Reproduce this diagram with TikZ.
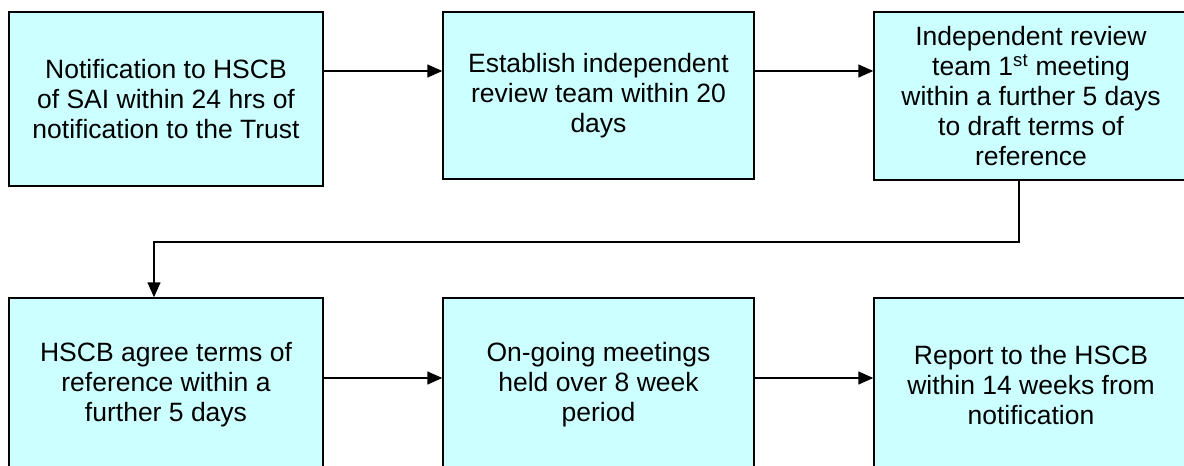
\documentclass[tikz,border=0pt]{standalone}
\usepackage{fontspec}
\setmainfont{Liberation Sans}
\usetikzlibrary{arrows.meta, positioning}
\definecolor{boxcyan}{HTML}{CCFFFF}

\begin{document}
\begin{tikzpicture}[x=1pt, y=1pt,
  box/.style={draw=black, line width=1.5pt, fill=boxcyan, minimum width=314pt,
    minimum height=174pt, inner sep=0pt, align=center,
    font=\fontsize{26.5}{30}\selectfont},
  flow/.style={line width=1.5pt, -{Triangle[length=15pt,width=13pt]}}]
\useasboundingbox (0,0) rectangle (1184,-466);
% Top row
\node[box] (notify) at (166,-99) {Notification to HSCB\\of SAI within 24 hrs of\\notification to the Trust};
\node[box, minimum width=311pt, minimum height=167pt] (team) at (598.5,-95.5) {Establish independent\\review team within 20\\days};
\node[box, minimum height=168pt] (meet) at (1031,-96) {Independent review\\team 1\textsuperscript{st} meeting\\within a further 5 days\\to draft terms of\\reference};
% Bottom row
\node[box] (agree) at (166,-385) {HSCB agree terms of\\reference within a\\further 5 days};
\node[box, minimum width=311pt] (ongoing) at (598.5,-385) {On-going meetings\\held over 8 week\\period};
\node[box] (report) at (1031,-385) {Report to the HSCB\\within 14 weeks from\\notification};
% Connectors
\coordinate (turn) at (1019,-242);
\draw[flow] ([yshift=28pt]notify.east) -- ([yshift=28pt]notify.east -| team.west);
\draw[flow] ([yshift=28pt]notify.east -| team.east) -- ([yshift=28pt]notify.east -| meet.west);
\draw[flow] (turn |- meet.south) -- (turn) -- (turn -| 154,0) -- ([xshift=-12pt]agree.north);
\draw[flow] ([yshift=7pt]agree.east) -- ([yshift=7pt]ongoing.west);
\draw[flow] ([yshift=7pt]ongoing.east) -- ([yshift=7pt]report.west);
\end{tikzpicture}
\end{document}
